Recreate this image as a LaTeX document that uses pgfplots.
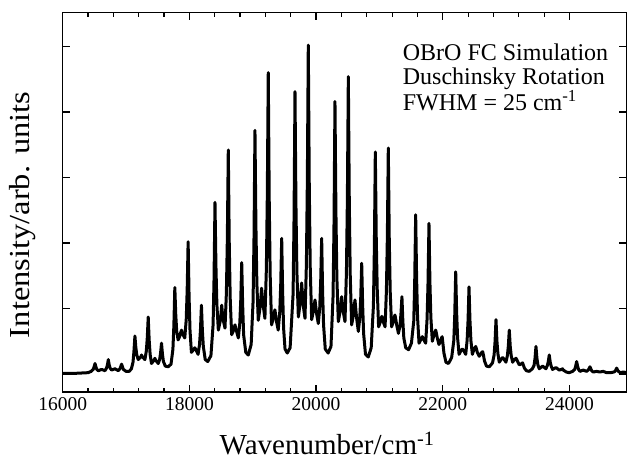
\documentclass[border=0pt]{standalone}
\usepackage{fontspec}
\setmainfont{Liberation Serif}
\usepackage{pgfplots}
\pgfplotsset{compat=1.18}
\begin{document}
\begin{tikzpicture}
\path[use as bounding box] (-62.7pt,-68pt) rectangle (564.3pt,392pt);
\begin{axis}[
  at={(0pt,0pt)}, anchor=south west,
  scale only axis, width=563.8pt, height=379.3pt,
  xmin=16000, xmax=24900, ymin=-0.275, ymax=5.516,
  xtick={16000,18000,20000,22000,24000},
  scaled ticks=false,
  minor x tick num=4,
  ytick={0,1,2,3,4,5}, yticklabels={},
  tick align=inside,
  major tick length=7pt, minor tick length=4pt,
  /pgf/number format/assume math mode=true,
  /pgf/number format/1000 sep={},
  xticklabel style={font=\fontsize{19.5}{20}\selectfont, yshift=-1.5pt},
  axis line style={line width=1.4pt},
  every tick/.style={line width=1.2pt, black},
  xlabel={Wavenumber/cm\textsuperscript{-1}},
  ylabel={\scalebox{1.12}[1]{Intensity/arb. units}},
  xlabel style={font=\fontsize{29}{30}\selectfont, at={(axis description cs:0.469,-0.166)}, anchor=base},
  ylabel style={font=\fontsize{29}{30}\selectfont, at={(axis description cs:-0.0712,0.467)}, anchor=center},
]
\addplot[black, line width=3pt, line join=round, mark=none] coordinates {
(16000,0.01) (16200,0.01) (16400,0.02) (16450,0.04)
(16482,0.07) (16496,0.11) (16510,0.16) (16524,0.11) (16538,0.07) (16562,0.05) (16615,0.07) (16668,0.05)
(16692,0.09) (16706,0.14) (16720,0.22) (16734,0.14) (16748,0.09) (16772,0.06) (16825,0.08) (16878,0.05)
(16902,0.08) (16916,0.11) (16930,0.15) (16944,0.11) (16958,0.07) (17000,0.04) (17050,0.04) (17085,0.08)
(17110,0.18) (17125,0.35) (17140,0.58) (17155,0.40) (17170,0.29) (17192,0.22) (17232,0.26) (17245,0.29) (17258,0.26) (17298,0.22)
(17320,0.35) (17335,0.55) (17350,0.87) (17365,0.52) (17380,0.30) (17402,0.16) (17442,0.21) (17455,0.24) (17468,0.21) (17508,0.16)
(17530,0.22) (17545,0.32) (17560,0.47) (17575,0.30) (17590,0.19) (17620,0.12) (17665,0.11) (17710,0.15)
(17740,0.38) (17755,0.74) (17770,1.32) (17785,0.90) (17800,0.65) (17822,0.52) (17850,0.58) (17862,0.63) (17875,0.67) (17888,0.63) (17900,0.60) (17927,0.55)
(17950,0.83) (17965,1.28) (17980,2.02) (17995,1.18) (18010,0.66) (18032,0.33) (18072,0.38) (18085,0.40) (18098,0.38) (18137,0.30)
(18160,0.45) (18175,0.68) (18190,1.05) (18205,0.66) (18220,0.42) (18250,0.22) (18290,0.19) (18340,0.28)
(18374,0.75) (18389,1.45) (18404,2.62) (18419,1.65) (18434,1.06) (18457,0.67) (18485,0.80) (18497,0.90) (18510,1.05) (18522,0.92) (18535,0.82) (18562,0.70)
(18584,1.24) (18599,2.06) (18614,3.42) (18629,2.01) (18644,1.16) (18667,0.60) (18695,0.66) (18707,0.70) (18720,0.75) (18732,0.70) (18745,0.65) (18773,0.55)
(18796,0.78) (18811,1.13) (18826,1.70) (18841,1.05) (18856,0.60) (18890,0.33) (18930,0.29) (18975,0.45)
(19005,1.10) (19020,2.08) (19035,3.72) (19050,2.27) (19065,1.39) (19087,0.82) (19115,1.01) (19127,1.15) (19140,1.31) (19152,1.17) (19165,1.05) (19192,0.85)
(19215,1.60) (19230,2.72) (19245,4.60) (19260,2.68) (19275,1.52) (19297,0.75) (19325,0.85) (19337,0.92) (19350,0.98) (19362,0.90) (19375,0.80) (19402,0.67)
(19427,0.95) (19442,1.37) (19457,2.07) (19472,1.25) (19487,0.70) (19510,0.38) (19545,0.32) (19590,0.40)
(19637,1.22) (19652,2.38) (19667,4.31) (19682,2.59) (19697,1.56) (19720,0.87) (19747,1.07) (19760,1.23) (19772,1.39) (19784,1.23) (19797,1.05) (19825,0.85)
(19847,1.68) (19862,2.94) (19877,5.02) (19892,2.92) (19907,1.65) (19930,0.83) (19957,0.96) (19970,1.05) (19983,1.13) (19995,1.03) (20008,0.92) (20035,0.77)
(20058,1.02) (20073,1.42) (20088,2.07) (20103,1.25) (20118,0.75) (20145,0.38) (20190,0.32) (20235,0.42)
(20268,1.19) (20283,2.30) (20298,4.16) (20313,2.48) (20328,1.47) (20351,0.80) (20378,0.95) (20391,1.07) (20404,1.18) (20416,1.07) (20429,0.95) (20456,0.80)
(20479,1.55) (20494,2.67) (20509,4.54) (20524,2.65) (20539,1.51) (20561,0.75) (20589,0.90) (20601,1.02) (20614,1.13) (20626,1.00) (20639,0.86) (20667,0.65)
(20690,0.86) (20705,1.17) (20720,1.69) (20735,1.05) (20750,0.62) (20780,0.30) (20824,0.26) (20870,0.40)
(20905,1.04) (20920,1.92) (20935,3.39) (20950,2.06) (20965,1.30) (20987,0.72) (21013,0.79) (21026,0.84) (21038,0.88) (21050,0.84) (21063,0.79) (21089,0.72)
(21110,1.27) (21125,2.09) (21140,3.45) (21155,2.07) (21170,1.26) (21192,0.72) (21220,0.80) (21232,0.86) (21245,0.90) (21257,0.84) (21270,0.76) (21300,0.62)
(21325,0.74) (21340,0.92) (21355,1.18) (21370,0.80) (21385,0.55) (21415,0.40) (21460,0.37) (21505,0.47)
(21542,0.81) (21557,1.42) (21572,2.43) (21587,1.45) (21602,0.86) (21625,0.47) (21652,0.52) (21665,0.55) (21677,0.57) (21689,0.55) (21702,0.52) (21730,0.47)
(21752,0.84) (21767,1.39) (21782,2.30) (21797,1.40) (21812,0.86) (21835,0.50) (21862,0.60) (21875,0.64) (21888,0.67) (21900,0.62) (21913,0.55) (21940,0.45)
(21962,0.50) (21976,0.54) (21990,0.57) (22004,0.45) (22018,0.32) (22050,0.18) (22090,0.16) (22140,0.25)
(22174,0.51) (22189,0.90) (22204,1.56) (22219,0.93) (22234,0.55) (22257,0.30) (22284,0.35) (22297,0.37) (22309,0.38) (22321,0.37) (22334,0.35) (22362,0.30)
(22384,0.51) (22399,0.82) (22414,1.33) (22429,0.82) (22444,0.51) (22467,0.30) (22495,0.38) (22507,0.40) (22520,0.42) (22532,0.38) (22545,0.33) (22575,0.27)
(22602,0.31) (22616,0.33) (22630,0.34) (22644,0.28) (22658,0.20) (22690,0.12) (22735,0.11) (22785,0.17)
(22810,0.29) (22825,0.49) (22840,0.83) (22855,0.50) (22870,0.31) (22892,0.18) (22920,0.22) (22932,0.24) (22945,0.25) (22957,0.24) (22970,0.22) (22997,0.18)
(23020,0.28) (23035,0.43) (23050,0.67) (23065,0.42) (23080,0.28) (23103,0.18) (23130,0.22) (23143,0.23) (23156,0.24) (23168,0.22) (23181,0.19) (23208,0.14)
(23232,0.15) (23246,0.16) (23260,0.17) (23274,0.13) (23288,0.09) (23320,0.05) (23365,0.04) (23415,0.08)
(23441,0.13) (23456,0.24) (23471,0.42) (23486,0.24) (23501,0.14) (23523,0.08) (23550,0.10) (23563,0.11) (23576,0.12) (23589,0.11) (23602,0.10) (23628,0.08)
(23651,0.13) (23666,0.19) (23681,0.29) (23696,0.18) (23711,0.12) (23733,0.07) (23773,0.09) (23786,0.10) (23799,0.09) (23838,0.06)
(23878,0.07) (23890,0.08) (23902,0.06) (23950,0.03) (23995,0.02) (24050,0.04)
(24083,0.07) (24098,0.12) (24113,0.19) (24128,0.12) (24143,0.07) (24165,0.04) (24218,0.06) (24270,0.04)
(24295,0.06) (24309,0.08) (24323,0.11) (24337,0.08) (24351,0.05) (24375,0.03) (24428,0.04) (24480,0.03) (24533,0.04) (24585,0.02) (24650,0.02) (24700,0.03)
(24717,0.04) (24731,0.06) (24745,0.09) (24759,0.06) (24773,0.04) (24800,0.02) (24850,0.03) (24900,0.02)
};
\node[anchor=north west, inner sep=0pt, align=left, font=\fontsize{24}{23.5}\selectfont] at (axis description cs:0.603,0.9175) {OBrO FC Simulation\\Duschinsky Rotation\\FWHM = 25 cm\textsuperscript{-1}};
\end{axis}
\end{tikzpicture}
\end{document}
